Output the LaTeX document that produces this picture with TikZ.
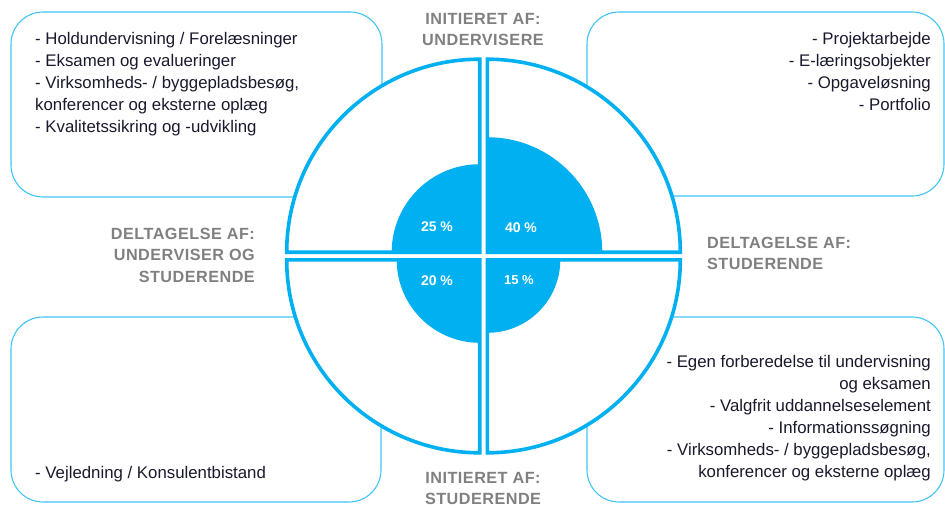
\documentclass[tikz,border=0pt]{standalone}
\usepackage{fontspec}
\setmainfont{Liberation Sans}
\usepackage{tikz}
\usetikzlibrary{calc}
\definecolor{ringblue}{RGB}{0,176,240}
\definecolor{labelgray}{RGB}{128,128,128}
\definecolor{listink}{RGB}{25,25,45}
\tikzset{
  listbox/.style={draw=ringblue!75,line width=1.1pt,rounded corners=32pt},
  listtext/.style={inner sep=0pt,font=\fontsize{16.8}{22}\selectfont,text=listink},
  headtext/.style={inner sep=0pt,font=\fontsize{16.2}{21.5}\selectfont\bfseries\addfontfeature{LetterSpace=3}},
  pcttext/.style={inner sep=0pt,font=\fontsize{14}{16}\selectfont\bfseries,text=white}
}

\begin{document}
\begin{tikzpicture}[x=1pt,y=1pt]
    \useasboundingbox (0,0) rectangle (945,-507);
    % the four boxes behind the ring
    \draw[listbox] (11,-12) rectangle (382,-197);
    \draw[listbox] (587,-12) rectangle (944,-196);
    \draw[listbox] (11,-317) rectangle (381,-502);
    \draw[listbox] (587,-317) rectangle (944,-502);
    % ring of four quadrants with their shares
    \coordinate (c) at (483.5,-256);
    \foreach \q/\dx/\dy/\a/\r in {tl/-3.8/3.8/90/88, tr/3.8/3.8/0/115, bl/-3.8/-3.8/180/83, br/3.8/-3.8/270/73} {
      \coordinate (\q) at ($(c)+(\dx,\dy)$);
      \fill[white] (\q) -- ++(\a:193) arc (\a:\a+90:193) -- cycle;
      \fill[ringblue] (\q) -- ++(\a:\r) arc (\a:\a+90:\r) -- cycle;
      \draw[ringblue,line width=3.6pt] (\q) -- ++(\a:193) arc (\a:\a+90:193) -- cycle;
    }
    \node[pcttext] (p25) at (437,-227) {25 \%};
    \node[pcttext] (p40) at (521,-228) {40 \%};
    \node[pcttext] (p20) at (437,-281) {20 \%};
    \node[pcttext,font=\fontsize{13}{15}\selectfont\bfseries] (p15) at (519,-280) {15 \%};
    % headings round the ring
    \node[headtext,text=labelgray,anchor=north,align=center] (initunder) at (483,-12.7) {INITIERET AF:\\UNDERVISERE};
    \node[headtext,text=labelgray,anchor=north,align=center] (initstud) at (483,-472) {INITIERET AF:\\STUDERENDE};
    \node[headtext,text=labelgray,anchor=north east,align=right] (delboth) at (255,-227.7) {DELTAGELSE AF:\\UNDERVISER OG\\STUDERENDE};
    \node[headtext,text=labelgray,anchor=north west,align=left] (delstud) at (707,-236.7) {DELTAGELSE AF:\\STUDERENDE};
    % lists in the boxes
    \node[listtext,anchor=north west,align=left] (listtl) at (35,-32) {- Holdundervisning / Forelæsninger\\- Eksamen og evalueringer\\- Virksomheds- / byggepladsbesøg,\\konferencer og eksterne oplæg\\- Kvalitetssikring og -udvikling};
    \node[listtext,anchor=north east,align=right] (listtr) at (931,-32) {- Projektarbejde\\- E-læringsobjekter\\- Opgaveløsning\\- Portfolio};
    \node[listtext,anchor=north west,align=left] (listbl) at (35,-466) {- Vejledning / Konsulentbistand};
    \node[listtext,anchor=north east,align=right] (listbr) at (931,-355) {- Egen forberedelse til undervisning\\og eksamen\\- Valgfrit uddannelseselement\\- Informationssøgning\\- Virksomheds- / byggepladsbesøg,\\konferencer og eksterne oplæg};
\end{tikzpicture}
\end{document}
